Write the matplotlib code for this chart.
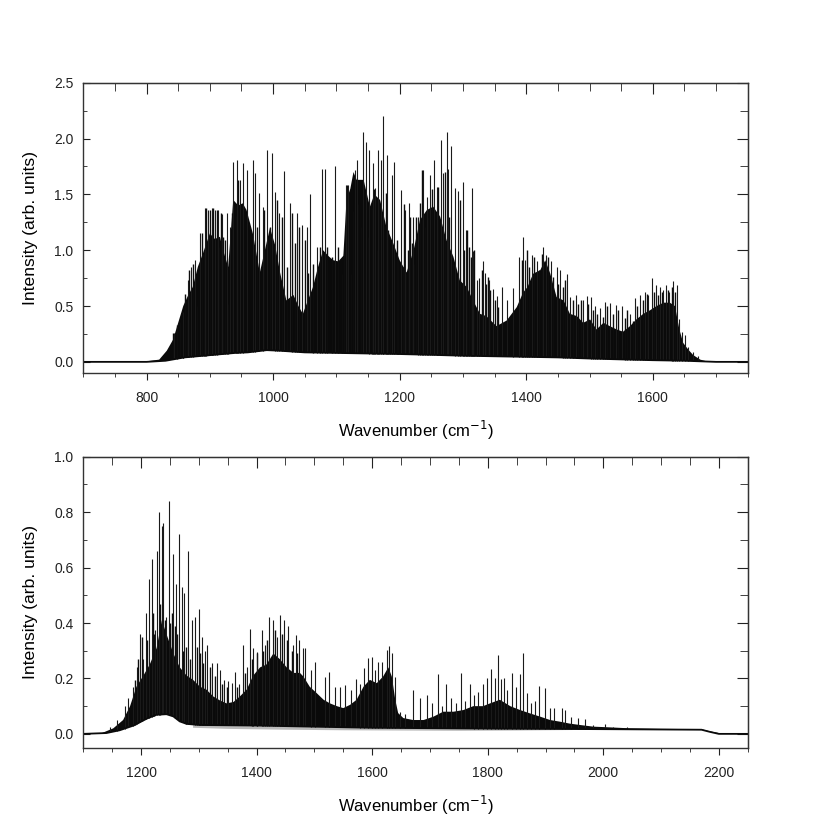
import numpy as np
import matplotlib.pyplot as plt
from matplotlib.ticker import MultipleLocator

plt.rcParams['font.family'] = ['Liberation Sans', 'DejaVu Sans']

# ---- top spectrum (700-1750 cm-1) ----
top_up_x = [700, 800, 820, 832, 842, 850, 858, 866, 873, 881, 889, 900, 908, 916, 921, 929,
            937, 945, 952, 958, 968, 979, 987, 995, 1003, 1011, 1021, 1032, 1040, 1047, 1055,
            1063, 1071, 1079, 1087, 1095, 1103, 1111, 1116, 1122, 1127, 1132, 1143, 1153, 1160,
            1169, 1179, 1190, 1200, 1211, 1222, 1232, 1243, 1253, 1264, 1274, 1285, 1295, 1306,
            1316, 1327, 1337, 1353, 1369, 1385, 1395, 1402, 1411, 1422, 1430, 1438, 1448, 1459,
            1469, 1480, 1490, 1501, 1511, 1522, 1532, 1543, 1553, 1564, 1574, 1585, 1595, 1606,
            1617, 1627, 1635, 1642, 1648, 1656, 1664, 1675, 1685, 1750]
top_up_y = [0.0, 0.005, 0.02, 0.1, 0.2, 0.35, 0.5, 0.6, 0.67, 0.85, 0.97, 1.15, 1.1, 1.12, 1.0, 0.85,
            1.45, 1.4, 1.42, 1.36, 1.15, 0.8, 1.0, 1.2, 1.05, 0.8, 0.55, 0.6, 0.5, 0.43, 0.55,
            0.67, 0.85, 1.0, 0.95, 0.91, 0.9, 0.95, 1.45, 1.55, 1.7, 1.63, 1.63, 1.39, 1.5,
            1.45, 1.21, 1.06, 0.91, 0.8, 1.0, 1.27, 1.36, 1.39, 1.3, 1.09, 0.94, 0.73, 0.67,
            0.55, 0.43, 0.41, 0.32, 0.37, 0.49, 0.62, 0.67, 0.79, 0.82, 0.91, 0.79, 0.58, 0.55,
            0.43, 0.41, 0.35, 0.38, 0.29, 0.35, 0.32, 0.29, 0.27, 0.32, 0.38, 0.43, 0.46, 0.5,
            0.53, 0.53, 0.5, 0.29, 0.17, 0.11, 0.06, 0.02, 0.005, 0.0]
top_lo_x = [700, 800, 830, 860, 900, 940, 960, 990, 1010, 1050, 1100, 1150, 1200, 1250, 1300,
            1350, 1400, 1450, 1500, 1550, 1600, 1650, 1700, 1750]
top_lo_y = [0.0, 0.0, 0.01, 0.04, 0.06, 0.08, 0.085, 0.105, 0.1, 0.085, 0.08, 0.075, 0.07, 0.063,
            0.055, 0.05, 0.045, 0.04, 0.03, 0.022, 0.015, 0.01, 0.0, 0.0]
top_line_x = [843, 858, 866, 871, 876.5, 884, 892, 897.6, 903, 908, 913, 919, 927, 932, 937, 943,
              948, 953, 959, 968, 971, 977, 983.5, 990, 998, 1003, 1010, 1017, 1027, 1037, 1045,
              1053, 1059, 1069, 1078, 1082.5, 1098, 1115, 1119, 1129.4, 1132, 1142.6, 1146.8, 1152,
              1157.3, 1161, 1165.2, 1170, 1173.1, 1179.5, 1187.4, 1191.6, 1201.6, 1208.4, 1214.8,
              1221.6, 1229.5, 1237.4, 1242.7, 1248, 1254.3, 1259.5, 1264.8, 1268, 1274.3, 1276.5,
              1281.6, 1287.5, 1291.7, 1299.6, 1304.8, 1313.8, 1316.4, 1321.7, 1325.9, 1331.2,
              1334.9, 1341.7, 1347, 1353.3, 1361.7, 1369.1, 1378.6, 1389.1, 1394.4, 1398.1, 1408.5,
              1416.4, 1427, 1431, 1438.6, 1448, 1453.3, 1464.9, 1469.1, 1478.6, 1490.2, 1495.5,
              1501.8, 1508.6, 1516.5, 1524.4, 1532.3, 1541.8, 1550.8, 1563.9, 1571.8, 1579.7,
              1587.6, 1592.9, 1598.2, 1605, 1611.4, 1616.6, 1620.8, 1626.1, 1632.4, 1637.7, 1641.9,
              1645.6, 1650.9, 1656.1, 1664, 1672]
top_line_h = [0.26, 0.45, 0.73, 0.85, 0.91, 1.15, 1.38, 1.36, 1.38, 1.36, 1.36, 1.32, 1.33, 1.21, 1.79,
              1.81, 1.63, 1.78, 1.72, 1.81, 1.69, 1.51, 1.39, 1.90, 1.87, 1.52, 1.33, 1.71, 1.42,
              1.33, 1.23, 1.21, 1.50, 1.03, 1.73, 1.73, 1.75, 1.58, 1.58, 1.72, 1.81, 2.06, 1.97,
              1.90, 1.78, 1.56, 1.90, 1.81, 2.20, 1.85, 1.67, 1.79, 1.54, 1.36, 1.42, 1.30, 1.30,
              1.72, 1.48, 1.67, 1.81, 1.57, 1.99, 1.69, 2.06, 1.73, 1.93, 1.56, 1.53, 1.61, 1.18,
              1.56, 0.99, 0.73, 0.75, 0.90, 0.80, 0.73, 0.65, 0.59, 0.67, 0.55, 0.66, 0.94, 1.12,
              0.91, 0.96, 0.90, 1.03, 0.96, 0.90, 0.85, 0.82, 0.79, 0.58, 0.60, 0.555, 0.59, 0.58,
              0.50, 0.48, 0.54, 0.53, 0.51, 0.50, 0.43, 0.57, 0.60, 0.63, 0.60, 0.75, 0.69, 0.67,
              0.64, 0.69, 0.63, 0.72, 0.69, 0.38, 0.27, 0.24, 0.13, 0.09, 0.05]
# medium-height lines inside the band
top_mid_x = [842.3, 847.5, 852.8, 857, 860.7, 864.4, 867.6, 873.9, 880.2, 887.1, 890.7, 893.9,
             900.2, 902.9, 905.5, 910.8, 914.4, 917.1, 921.3, 924, 929.2, 934.5, 941.3, 945,
             974, 985.6, 995, 1005.6, 1013.5, 1021.4, 1029.3, 1034.6, 1041.4, 1050.4, 1055.6,
             1063.5, 1074.1, 1084.6, 1092.5, 1103, 1108.2, 1111.9, 1117.2, 1123, 1126.7, 1134.6,
             1138.3, 1141.4, 1150.4, 1156.7, 1159.9, 1163.6, 1167.2, 1174.1, 1177.8, 1182,
             1184.6, 1195.2, 1197.8, 1204.6, 1206.7, 1209.9, 1213.6, 1216.2, 1218.9, 1222.5,
             1225.7, 1232, 1234.7, 1239.9, 1245.2, 1251.5, 1258.4, 1261, 1271.5, 1278.4, 1284.7,
             1295.2, 1301.6, 1305.8, 1308.9, 1312.1, 1317.9, 1329.5, 1335.8, 1339, 1342.7,
             1350.6, 1356, 1392.7, 1400.6, 1404.8, 1412.2, 1420.7, 1424.3, 1434.9, 1442.8,
             1450.7, 1457.5, 1461.2, 1473.3, 1482.3, 1486, 1498.1, 1504.9, 1512.3, 1520.7,
             1528.1, 1536.5, 1545.5, 1556, 1559.7, 1568.2, 1575.5, 1584, 1590.3, 1601.9, 1608.2,
             1614, 1623.5, 1629.8, 1635.1]
top_mid_h = [0.26, 0.33, 0.36, 0.44, 0.61, 0.41, 0.82, 0.88, 0.5, 1.15, 0.97, 1.38, 1.36, 0.79,
             1.38, 1.36, 1.03, 1.33, 1.12, 1.09, 0.52, 1.33, 1.31, 1.63,
             1.21, 1.36, 1.21, 1.45, 1.30, 0.85, 1.33, 1.06, 1.21, 1.09, 0.80,
             0.88, 1.03, 1.03, 0.94, 1.03, 0.79, 0.97, 1.58, 0.79, 1.35, 1.41,
             1.21, 1.51, 1.12, 1.38, 1.55, 1.0, 1.44, 0.91, 1.51, 1.18,
             0.64, 1.09, 0.91, 0.85, 1.41, 0.79, 1.0, 1.30, 1.06, 0.88,
             1.30, 1.42, 1.72, 1.21, 1.30, 1.55, 1.30, 1.57, 1.70, 1.30, 0.88,
             1.45, 1.0, 1.18, 1.03, 0.94, 1.0, 0.82, 0.70, 0.76, 0.64,
             0.55, 0.49, 0.91, 1.0, 0.85, 0.94, 0.82, 0.97, 0.94, 0.76,
             0.70, 0.67, 0.73, 0.55, 0.52, 0.55, 0.52, 0.46, 0.43, 0.40,
             0.50, 0.43, 0.46, 0.39, 0.46, 0.37, 0.50, 0.55, 0.61, 0.63, 0.60,
             0.63, 0.64, 0.67, 0.63]

# ---- bottom spectrum (1100-2250 cm-1) ----
bot_up_x = [1100, 1129, 1152, 1169, 1181, 1192, 1204, 1215, 1227, 1236, 1244, 1256, 1267, 1279,
            1290, 1302, 1313, 1325, 1337, 1348, 1360, 1371, 1383, 1394, 1406, 1417, 1429, 1440,
            1452, 1464, 1475, 1481, 1492, 1504, 1516, 1527, 1539, 1550, 1562, 1573, 1585, 1596,
            1608, 1619, 1628, 1634, 1640, 1645, 1654, 1671, 1689, 1706, 1723, 1741, 1758, 1775,
            1792, 1804, 1821, 1839, 1856, 1873, 1891, 1908, 1925, 1942, 1960, 1983, 2006, 2046,
            2100, 2170, 2185, 2200, 2250]
bot_up_y = [0.0, 0.0, 0.02, 0.05, 0.10, 0.17, 0.21, 0.25, 0.31, 0.41, 0.36, 0.29, 0.24, 0.21,
            0.195, 0.17, 0.16, 0.135, 0.12, 0.11, 0.115, 0.135, 0.16, 0.21, 0.24, 0.25, 0.29, 0.27,
            0.24, 0.22, 0.22, 0.207, 0.17, 0.147, 0.123, 0.11, 0.1, 0.093, 0.105, 0.123, 0.17, 0.195,
            0.183, 0.207, 0.24, 0.207, 0.123, 0.075, 0.057, 0.05, 0.05, 0.062, 0.08, 0.08, 0.086, 0.1,
            0.1, 0.11, 0.123, 0.1, 0.086, 0.074, 0.062, 0.05, 0.044, 0.037, 0.032, 0.026, 0.024, 0.02,
            0.018, 0.017, 0.009, 0.003, 0.001]
bot_lo_x = [1100, 1140, 1163, 1187, 1210, 1227, 1244, 1256, 1267, 1279, 1302, 1400, 1500, 1600,
            1800, 2000, 2170, 2185, 2200, 2250]
bot_lo_y = [0.0, 0.003, 0.013, 0.03, 0.055, 0.069, 0.071, 0.063, 0.045, 0.036, 0.032, 0.03, 0.026,
            0.022, 0.019, 0.017, 0.015, 0.007, 0.0, 0.0]
bot_dip_x = [1290, 1350, 1450, 1550, 1650, 1750, 1850, 1950, 2000]
bot_dip_y = [0.022, 0.018, 0.015, 0.013, 0.012, 0.011, 0.012, 0.014, 0.016]
bot_line_x = [1146, 1158, 1172, 1178, 1186.6, 1192.4, 1198, 1204, 1208.5, 1213.7, 1218.3, 1224, 1228,
              1230.5, 1235.6, 1238.5, 1244, 1248.3, 1255.8, 1260.5, 1265, 1270.3, 1274.3, 1281.8,
              1287.6, 1293.3, 1299.7, 1304.9, 1310.7, 1314.7, 1322.2, 1330.9, 1336.6, 1343.5, 1351,
              1356.8, 1362.6, 1370, 1375.9, 1382.8, 1388.6, 1394.3, 1401.2, 1408.7, 1414.5, 1422,
              1427.8, 1434.7, 1440.5, 1447.4, 1454.9, 1463.6, 1468.2, 1474, 1479.7, 1483.8, 1493.6,
              1501, 1518.4, 1525.9, 1535.7, 1544.4, 1553, 1562.8, 1572, 1579, 1585.9, 1593.4,
              1599.2, 1605, 1610.7, 1616.5, 1625.1, 1629.7, 1633.8, 1639.6, 1648.2, 1656.9, 1671.3,
              1682.8, 1694.4, 1703, 1713.4, 1720.3, 1727.3, 1736.5, 1745.2, 1753.2, 1760.7, 1769.4,
              1776.3, 1783.8, 1791.3, 1798.2, 1805.2, 1812.7, 1817.3, 1822.5, 1828.2, 1834, 1841.5,
              1848.4, 1855.9, 1860.6, 1867.5, 1875, 1881.9, 1888.8, 1899.2, 1907.9, 1914.8, 1928.1,
              1933.8, 1943.6, 1957, 1969, 1982.9, 2003.1, 2017.5, 2040.6]
bot_line_h = [0.026, 0.05, 0.10, 0.13, 0.17, 0.24, 0.36, 0.27, 0.435, 0.56, 0.63, 0.375, 0.66,
              0.80, 0.75, 0.76, 0.42, 0.84, 0.65, 0.54, 0.72, 0.53, 0.51, 0.66, 0.41, 0.42, 0.45,
              0.35, 0.30, 0.32, 0.255, 0.255, 0.23, 0.195, 0.19, 0.185, 0.225, 0.18, 0.32, 0.24,
              0.38, 0.31, 0.295, 0.375, 0.32, 0.42, 0.41, 0.35, 0.43, 0.41, 0.39, 0.32, 0.357,
              0.34, 0.31, 0.31, 0.23, 0.26, 0.207, 0.225, 0.17, 0.17, 0.175, 0.16, 0.197, 0.18,
              0.237, 0.273, 0.279, 0.23, 0.26, 0.26, 0.303, 0.317, 0.29, 0.207, 0.08, 0.07, 0.16,
              0.13, 0.14, 0.11, 0.215, 0.10, 0.18, 0.13, 0.11, 0.22, 0.12, 0.18, 0.14, 0.15, 0.18,
              0.2, 0.233, 0.2, 0.285, 0.197, 0.2, 0.16, 0.22, 0.17, 0.216, 0.293, 0.147, 0.11, 0.12,
              0.173, 0.165, 0.093, 0.094, 0.095, 0.086, 0.062, 0.057, 0.053, 0.032, 0.037, 0.026,
              0.024]
bot_mid_x = [1189.5, 1195.3, 1201, 1210.8, 1220, 1222.4, 1232.8, 1241.4, 1250, 1253, 1258.7,
             1262.8, 1272, 1277.8, 1284.7, 1296.2, 1302, 1307.8, 1319.3, 1328, 1339.5, 1348.2,
             1365.5, 1379.9, 1391.4, 1400.1, 1411.6, 1417.4, 1431.8, 1443.4, 1452, 1460.7, 1469.3]
bot_mid_h = [0.195, 0.27, 0.35, 0.34, 0.435, 0.36, 0.47, 0.41, 0.40, 0.435, 0.39,
             0.36, 0.30, 0.315, 0.27, 0.315, 0.29, 0.255, 0.24, 0.21, 0.18, 0.17,
             0.17, 0.22, 0.27, 0.29, 0.30, 0.34, 0.375, 0.36, 0.34, 0.30, 0.29]


def draw_spectrum(ax, up_x, up_y, lo_x, lo_y, line_x, line_h, lw):
    # sticks start on the lower edge of the band
    base = np.interp(line_x, lo_x, lo_y)
    ax.vlines(line_x, base, line_h, color='#1a1a1a', lw=lw)
    # dense black band of overlapping lines
    ax.fill(np.r_[up_x, lo_x[::-1]], np.r_[up_y, lo_y[::-1]], color='#0a0a0a', lw=0)
    ax.plot(lo_x, lo_y, color='#0a0a0a', lw=1.3)


def style_axes(ax, xlim, ylim, xmaj, ymaj):
    ax.set_xlim(*xlim)
    ax.set_ylim(*ylim)
    ax.xaxis.set_major_locator(MultipleLocator(xmaj))
    ax.xaxis.set_minor_locator(MultipleLocator(xmaj / 4))
    ax.yaxis.set_major_locator(MultipleLocator(ymaj))
    ax.yaxis.set_minor_locator(MultipleLocator(ymaj / 2))
    ax.yaxis.set_major_formatter('{x:.1f}')
    ax.tick_params(axis='x', which='both', direction='out', labelsize=10, colors='#222222',
                   pad=8)
    ax.tick_params(axis='x', which='major', length=5)
    ax.tick_params(axis='x', which='minor', length=3)
    ax.tick_params(axis='y', which='both', direction='in', labelsize=10, colors='#222222',
                   pad=7)
    ax.tick_params(axis='y', which='major', length=5)
    ax.tick_params(axis='y', which='minor', length=3)
    for s in ax.spines.values():
        s.set_color('#333333')
        s.set_linewidth(1.0)
    sx = ax.secondary_xaxis('top')
    sx.xaxis.set_major_locator(MultipleLocator(xmaj))
    sx.xaxis.set_minor_locator(MultipleLocator(xmaj / 4))
    sx.tick_params(axis='x', which='both', direction='in', labeltop=False, colors='#222222')
    sx.tick_params(axis='x', which='major', length=8)
    sx.tick_params(axis='x', which='minor', length=6)
    sy = ax.secondary_yaxis('right')
    sy.yaxis.set_major_locator(MultipleLocator(ymaj))
    sy.yaxis.set_minor_locator(MultipleLocator(ymaj / 2))
    sy.tick_params(axis='y', which='both', direction='in', labelright=False, colors='#222222')
    sy.tick_params(axis='y', which='major', length=8)
    sy.tick_params(axis='y', which='minor', length=6)
    ax.set_xlabel('Wavenumber (cm$^{-1}$)', fontsize=12, labelpad=10)
    ax.set_ylabel('Intensity (arb. units)', fontsize=12.6, labelpad=12)


fig = plt.figure(figsize=(8.31, 8.31), dpi=100)
ax1 = fig.add_axes([0.1002, 0.5511, 0.7996, 0.3494])
ax2 = fig.add_axes([0.1002, 0.1002, 0.7996, 0.3502])

ax1.vlines(top_mid_x, np.interp(top_mid_x, top_lo_x, top_lo_y), top_mid_h,
           color='#0d0d0d', lw=1.0)
draw_spectrum(ax1, np.array(top_up_x), np.array(top_up_y), np.array(top_lo_x),
              np.array(top_lo_y), top_line_x, top_line_h, 0.8)
style_axes(ax1, (700, 1750), (-0.1, 2.5), 200, 0.5)

# sparse dips below the band in the lower spectrum
bdx = np.array(bot_dip_x)
ax2.fill(np.r_[bdx, bdx[::-1]],
         np.r_[bot_dip_y, np.interp(bdx, bot_lo_x, bot_lo_y)[::-1]],
         color='#666666', alpha=0.45, lw=0)
ax2.vlines(bot_mid_x, np.interp(bot_mid_x, bot_lo_x, bot_lo_y), bot_mid_h,
           color='#0d0d0d', lw=1.0)
draw_spectrum(ax2, np.array(bot_up_x), np.array(bot_up_y), np.array(bot_lo_x),
              np.array(bot_lo_y), bot_line_x, bot_line_h, 0.8)
style_axes(ax2, (1100, 2250), (-0.05, 1.0), 200, 0.2)

fig.savefig('out.png', dpi=100)
